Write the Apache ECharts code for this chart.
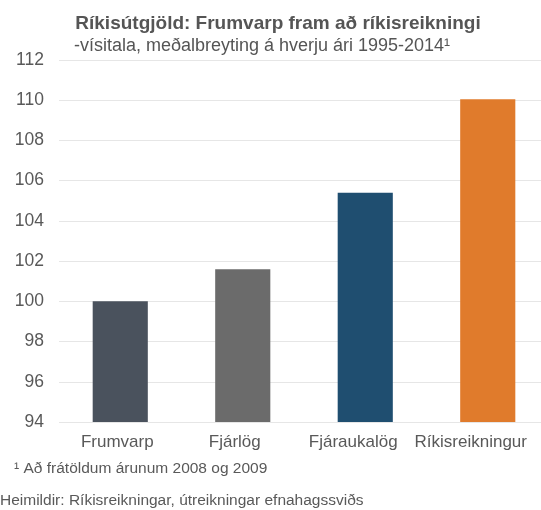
<!DOCTYPE html>
<html>
<head>
<meta charset="utf-8">
<script src="https://cdn.jsdelivr.net/npm/echarts@6/dist/echarts.min.js"></script>
<style>
  html, body { margin: 0; padding: 0; background: #fff; }
  #chart { width: 541px; height: 510px; }
</style>
</head>
<body>
<div id="chart"></div>
<script>
var dom = document.getElementById('chart');
var myChart = echarts.init(dom, null, { renderer: 'canvas' });

const categories = ['Frumvarp', 'Fjárlög', 'Fjáraukalög', 'Ríkisreikningur'];
const values = [100, 101.6, 105.4, 110.05];
const barColors = ['#4a525d', '#6b6b6b', '#1f4e70', '#e07b2c'];
const yTicks = [94, 96, 98, 100, 102, 104, 106, 108, 110, 112];

// labels in the original sit a bit left of their bars
const labelShift = [6, 16, 24, 34];

const font = 'Liberation Sans, Arial, sans-serif';

var option = {
  animation: false,
  backgroundColor: '#fff',
  title: [
    {
      text: 'Ríkisútgjöld: Frumvarp fram að ríkisreikningi',
      left: 273, top: 9, textAlign: 'center',
      textStyle: { fontFamily: font, fontSize: 19, fontWeight: 'bold', color: '#555' }
    },
    {
      text: '-vísitala, meðalbreyting á hverju ári 1995-2014¹',
      left: 257, top: 32, textAlign: 'center',
      textStyle: { fontFamily: font, fontSize: 18, fontWeight: 'normal', color: '#555' }
    }
  ],
  grid: { left: 59, width: 490, top: 60, height: 362, containLabel: false, outerBoundsMode: 'none' },
  xAxis: {
    type: 'category',
    data: categories.map(function (c, i) {
      return { value: c, textStyle: { padding: [0, labelShift[i], 0, 0] } };
    }),
    axisLine: { show: false },
    axisTick: { show: false },
    axisLabel: { interval: 0, hideOverlap: false, fontFamily: font, fontSize: 17, color: '#595959', margin: 12 }
  },
  yAxis: {
    type: 'value',
    min: yTicks[0],
    max: yTicks[yTicks.length - 1],
    interval: 2,
    axisLine: { show: false },
    axisTick: { show: false },
    axisLabel: { fontFamily: font, fontSize: 17.5, color: '#595959', margin: 15 },
    splitLine: { lineStyle: { color: '#e6e6e6', width: 1 } }
  },
  series: [{
    type: 'bar',
    barWidth: '45%',
    data: values.map(function (v, i) {
      return { value: v, itemStyle: { color: barColors[i] } };
    })
  }],
  graphic: [
    {
      type: 'text', left: 14, top: 461,
      style: { text: '¹ Að frátöldum árunum 2008 og 2009', fontFamily: font, fontSize: 15.5, fill: '#595959' }
    },
    {
      type: 'text', left: 0, top: 493,
      style: { text: 'Heimildir: Ríkisreikningar, útreikningar efnahagssviðs', fontFamily: font, fontSize: 15.5, fill: '#595959' }
    }
  ]
};

myChart.setOption(option);
window.addEventListener('resize', myChart.resize);
</script>
</body>
</html>
